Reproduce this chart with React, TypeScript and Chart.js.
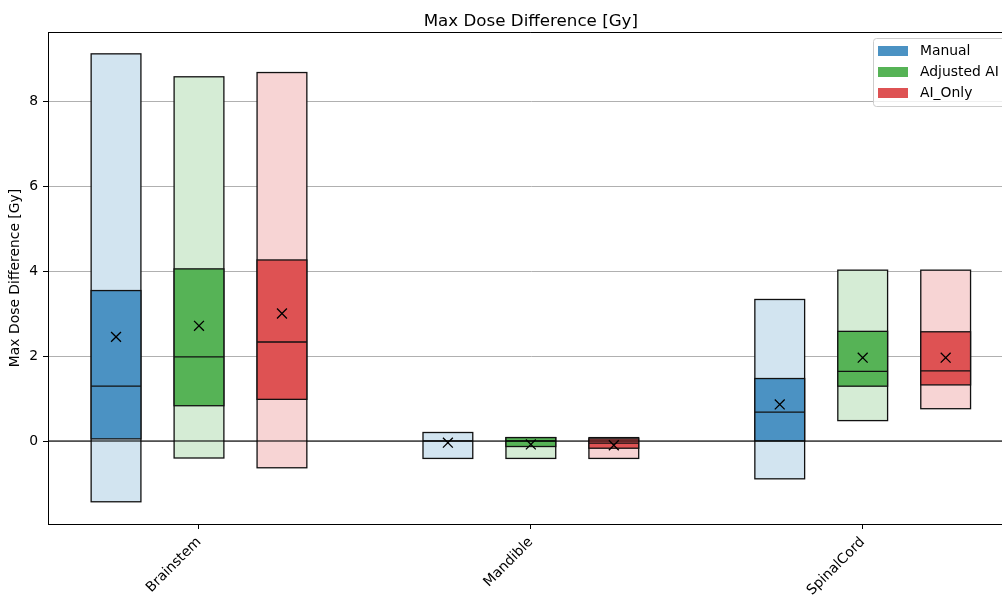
import React, { useEffect, useRef } from 'react';
import { Chart, registerables } from 'chart.js';
Chart.register(...registerables);

const categories = ['Brainstem', 'Mandible', 'SpinalCord'];
const methods = ['Manual', 'Adjusted AI', 'AI_Only'];
const yTicks = [0, 2, 4, 6, 8];

// values per method (rows) and category (columns)
const mins = [[-1.43, -0.41, -0.89], [-0.40, -0.41, 0.48], [-0.63, -0.41, 0.76]];
const q1s = [[0.05, 0.0, 0.0], [0.83, -0.13, 1.29], [0.98, -0.17, 1.32]];
const medians = [[1.29, 0.0, 0.68], [1.98, 0.0, 1.64], [2.33, -0.05, 1.65]];
const q3s = [[3.54, 0.0, 1.47], [4.05, 0.08, 2.58], [4.26, 0.05, 2.57]];
const maxs = [[9.11, 0.2, 3.33], [8.57, 0.08, 4.02], [8.67, 0.08, 4.02]];
const means = [[2.45, -0.04, 0.86], [2.71, -0.08, 1.96], [3.0, -0.1, 1.96]];

const offsets = [-0.25, 0, 0.25];
const boxWidth = 0.15;
const darkColors = ['#4b92c3', '#56b356', '#de5253'];
const lightColors = ['#d2e4f0', '#d5ecd5', '#f7d4d4'];
const FONT = '"DejaVu Sans", sans-serif';

const boxPlugin = {
  id: 'boxes',
  beforeDatasetsDraw(chart: any) {
    const { ctx, scales } = chart;
    const x = scales.x, y = scales.y;
    ctx.save();
    ctx.lineWidth = 1.3;
    ctx.strokeStyle = '#111';
    methods.forEach((_, mi) => {
      categories.forEach((__, ci) => {
        const c = ci + offsets[mi];
        const x0 = x.getPixelForValue(c - boxWidth / 2);
        const x1 = x.getPixelForValue(c + boxWidth / 2);
        const yMax = y.getPixelForValue(maxs[mi][ci]);
        const yMin = y.getPixelForValue(mins[mi][ci]);
        const yQ3 = y.getPixelForValue(q3s[mi][ci]);
        const yQ1 = y.getPixelForValue(q1s[mi][ci]);
        const yMed = y.getPixelForValue(medians[mi][ci]);
        ctx.fillStyle = lightColors[mi];
        ctx.fillRect(x0, yMax, x1 - x0, yMin - yMax);
        ctx.strokeRect(x0, yMax, x1 - x0, yMin - yMax);
        if (Math.abs(yQ1 - yQ3) > 0.01) {
          ctx.fillStyle = darkColors[mi];
          ctx.fillRect(x0, yQ3, x1 - x0, yQ1 - yQ3);
          ctx.strokeRect(x0, yQ3, x1 - x0, yQ1 - yQ3);
        }
        ctx.beginPath();
        ctx.moveTo(x0, yMed);
        ctx.lineTo(x1, yMed);
        ctx.stroke();
      });
    });
    ctx.restore();
  },
  afterDatasetsDraw(chart: any) {
    const { ctx, chartArea, scales } = chart;
    const y = scales.y;
    ctx.save();
    // zero line
    const y0 = y.getPixelForValue(0);
    ctx.strokeStyle = 'rgba(0,0,0,0.72)';
    ctx.lineWidth = 1.3;
    ctx.beginPath();
    ctx.moveTo(chartArea.left, y0);
    ctx.lineTo(chartArea.right, y0);
    ctx.stroke();
    // top & right spines
    ctx.strokeStyle = '#000';
    ctx.lineWidth = 1;
    ctx.beginPath();
    ctx.moveTo(chartArea.left, chartArea.top + 0.5);
    ctx.lineTo(chartArea.right, chartArea.top + 0.5);
    ctx.lineTo(chartArea.right, chartArea.bottom);
    ctx.stroke();
    // title
    ctx.fillStyle = '#000';
    ctx.font = `16.7px ${FONT}`;
    ctx.textAlign = 'center';
    ctx.textBaseline = 'alphabetic';
    ctx.fillText('Max Dose Difference [Gy]', (chartArea.left + chartArea.right) / 2, 25.5);
    // legend
    const lx = 873, ly = 38, lw = 136, lh = 68;
    ctx.fillStyle = 'rgba(255,255,255,0.8)';
    ctx.strokeStyle = '#cccccc';
    ctx.lineWidth = 1;
    ctx.beginPath();
    if ((ctx as any).roundRect) (ctx as any).roundRect(lx + 0.5, ly + 0.5, lw, lh, 3);
    else ctx.rect(lx + 0.5, ly + 0.5, lw, lh);
    ctx.fill();
    ctx.stroke();
    ctx.font = `13.9px ${FONT}`;
    ctx.textAlign = 'left';
    ctx.textBaseline = 'middle';
    methods.forEach((m, i) => {
      const cy = 51 + i * 21;
      ctx.fillStyle = darkColors[i];
      ctx.fillRect(878, cy - 5, 30, 10);
      ctx.fillStyle = '#000';
      ctx.fillText(m, 920, cy);
    });
    ctx.restore();
  },
};

export default function App() {
  const ref = useRef<HTMLCanvasElement>(null);
  useEffect(() => {
    if (!ref.current) return;
    const chart = new Chart(ref.current, {
      type: 'scatter',
      data: {
        datasets: methods.map((m, mi) => ({
          label: m,
          data: categories.map((_, ci) => ({ x: ci + offsets[mi], y: means[mi][ci] })),
          pointStyle: 'crossRot',
          pointRadius: 7,
          borderColor: '#000',
          backgroundColor: '#000',
          borderWidth: 1.3,
          showLine: false,
        })),
      },
      options: {
        responsive: false,
        animation: false,
        devicePixelRatio: 1,
        events: [],
        layout: { padding: { top: 32, right: 2, left: 0, bottom: 0 } },
        plugins: { legend: { display: false }, tooltip: { enabled: false }, title: { display: false } },
        scales: {
          x: {
            type: 'linear',
            min: -0.455,
            max: 2.455,
            afterBuildTicks: (s: any) => { s.ticks = categories.map((_, i) => ({ value: i })); },
            afterFit: (s: any) => { s.height = 77; s.paddingLeft = 0; s.paddingRight = 0; },
            ticks: {
              callback: (_v: any, i: number) => categories[i],
              minRotation: 45,
              maxRotation: 45,
              autoSkip: false,
              color: '#000',
              padding: 5,
              font: { size: 13.9, family: FONT },
            },
            grid: { drawOnChartArea: false, drawTicks: true, tickLength: 5, tickColor: '#000', tickWidth: 1 },
            border: { display: true, color: '#000', width: 1 },
          },
          y: {
            type: 'linear',
            min: -1.953,
            max: 9.624,
            afterBuildTicks: (s: any) => { s.ticks = yTicks.map((v) => ({ value: v })); },
            afterFit: (s: any) => { s.width = 48; s.paddingTop = 0; s.paddingBottom = 0; },
            ticks: { color: '#000', padding: 5, font: { size: 13.9, family: FONT } },
            grid: { color: '#b0b0b0', lineWidth: 1, tickLength: 5, tickColor: '#000', tickWidth: 1 },
            border: { display: true, color: '#000', width: 1 },
            title: {
              display: true,
              text: 'Max Dose Difference [Gy]',
              color: '#000',
              font: { size: 13.9, family: FONT },
              padding: { top: 7, bottom: 0 },
            },
          },
        },
      },
      plugins: [boxPlugin],
    } as any);
    return () => chart.destroy();
  }, []);
  return (
    <div style={{ position: 'fixed', left: 0, top: 0, width: 1002, height: 601, overflow: 'hidden', background: '#fff' }}>
      <canvas ref={ref} width={1022} height={601} style={{ width: 1022, height: 601, display: 'block' }} />
    </div>
  );
}
